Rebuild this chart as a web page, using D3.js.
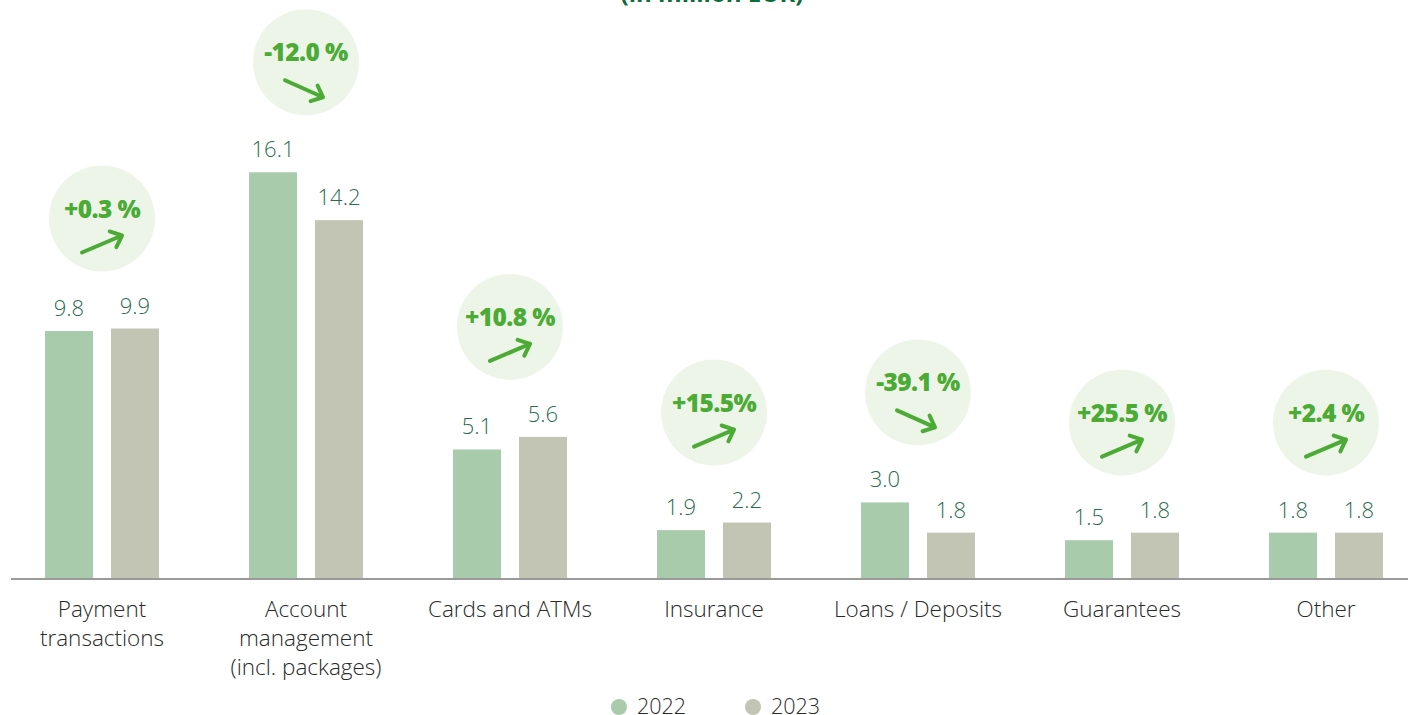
<!DOCTYPE html>
<html>
<head>
<meta charset="utf-8">
<script src="https://cdn.jsdelivr.net/npm/d3@7"></script>
<style>
  html, body { margin: 0; padding: 0; background: #fff; }
  svg { display: block; }
  text { font-family: "Open Sans", "Noto Sans", sans-serif; }
</style>
</head>
<body>
<svg id="chart" width="1408" height="715"></svg>
<script>
// Commission income by category (in million EUR)
const categories = [
  ["Payment", "transactions"],
  ["Account", "management", "(incl. packages)"],
  ["Cards and ATMs"],
  ["Insurance"],
  ["Loans / Deposits"],
  ["Guarantees"],
  ["Other"]
];
const years = ["2022", "2023"];
const values2022 = [9.8, 16.1, 5.1, 1.9, 3.0, 1.5, 1.8];
const values2023 = [9.9, 14.2, 5.6, 2.2, 1.8, 1.8, 1.8];
const changeLabels = ["+0.3 %", "-12.0 %", "+10.8 %", "+15.5%", "-39.1 %", "+25.5 %", "+2.4 %"];
const changeDirection = ["up", "down", "up", "up", "down", "up", "up"];
const title = "(in million EUR)";

const colors = { "2022": "#a8cbac", "2023": "#c2c5b3" };
const svg = d3.select("#chart");
const W = 1408, baseY = 578;

const keys = categories.map((c, i) => "c" + i);
const x0 = d3.scaleBand().domain(keys).range([0, 1428]).padding(0);
const x1 = d3.scaleBand().domain(years).range([45, 159]).paddingInner(18 / 66).paddingOuter(0);
const y = d3.scaleLinear().domain([0, 20]).range([baseY, baseY - 504]);

// title (top edge of the frame)
svg.append("text")
  .attr("x", 712).attr("y", 2)
  .attr("text-anchor", "middle")
  .attr("font-size", 24).attr("font-weight", 700)
  .attr("fill", "#0b6b3a")
  .text(title);

const rows = categories.map((c, i) => ({
  key: keys[i], label: c,
  vals: [{ year: "2022", v: values2022[i] }, { year: "2023", v: values2023[i] }],
  change: changeLabels[i], dir: changeDirection[i]
}));

const g = svg.selectAll("g.grp").data(rows).join("g")
  .attr("class", "grp")
  .attr("transform", d => `translate(${x0(d.key)},0)`);

// bars
g.selectAll("rect").data(d => d.vals).join("rect")
  .attr("x", d => x1(d.year))
  .attr("width", x1.bandwidth())
  .attr("y", d => y(d.v))
  .attr("height", d => baseY - y(d.v))
  .attr("fill", d => colors[d.year]);

// value labels
g.selectAll("text.val").data(d => d.vals).join("text")
  .attr("class", "val")
  .attr("x", d => x1(d.year) + x1.bandwidth() / 2)
  .attr("y", d => y(d.v) - 15)
  .attr("text-anchor", "middle")
  .attr("font-size", 22).attr("font-weight", 300)
  .attr("fill", "#2b6b52")
  .text(d => d.v.toFixed(1));

// category labels
g.each(function (d) {
  const t = d3.select(this).append("text")
    .attr("text-anchor", "middle")
    .attr("font-size", 22.5).attr("font-weight", 300)
    .attr("fill", "#2a2a2a");
  d.label.forEach((line, j) => {
    t.append("tspan").attr("x", 102).attr("y", 617 + j * 29).text(line);
  });
});

// change bubbles
const bubbleR = 53;
g.each(function (d) {
  const top = y(d3.max(d.vals, v => v.v));
  const cx = 102, cy = top - 110;
  const b = d3.select(this).append("g");
  b.append("circle").attr("cx", cx).attr("cy", cy).attr("r", bubbleR).attr("fill", "#edf5e9");
  b.append("text")
    .attr("x", cx).attr("y", cy - 1)
    .attr("text-anchor", "middle")
    .attr("font-size", 24.5).attr("font-weight", 800)
    .attr("letter-spacing", -0.6)
    .attr("fill", "#4bab35")
    .text(d.change);
  let tail, tip;
  if (d.dir === "up") { tail = [cx - 20, cy + 34]; tip = [cx + 20, cy + 17]; }
  else { tail = [cx - 21, cy + 18]; tip = [cx + 17, cy + 35]; }
  const ang = Math.atan2(tip[1] - tail[1], tip[0] - tail[0]);
  const hl = 13, spread = 0.72;
  const h1 = [tip[0] - hl * Math.cos(ang - spread), tip[1] - hl * Math.sin(ang - spread)];
  const h2 = [tip[0] - hl * Math.cos(ang + spread), tip[1] - hl * Math.sin(ang + spread)];
  b.append("path")
    .attr("d", d3.line()([tail, tip]) + "M" + h1 + "L" + tip + "L" + h2)
    .attr("fill", "none").attr("stroke", "#4bab35")
    .attr("stroke-width", 4).attr("stroke-linecap", "round").attr("stroke-linejoin", "round");
});

// baseline
svg.append("line")
  .attr("x1", 11).attr("x2", W).attr("y1", baseY + 1).attr("y2", baseY + 1)
  .attr("stroke", "#9a9a9a").attr("stroke-width", 2);

// legend
const leg = svg.append("g");
years.forEach((yr, i) => {
  const lx = 619 + i * 134;
  leg.append("circle").attr("cx", lx).attr("cy", 707).attr("r", 8).attr("fill", colors[yr]);
  leg.append("text").attr("x", lx + 18).attr("y", 714)
    .attr("font-size", 21.5).attr("font-weight", 300).attr("fill", "#2a2a2a").text(yr);
});
</script>
</body>
</html>
